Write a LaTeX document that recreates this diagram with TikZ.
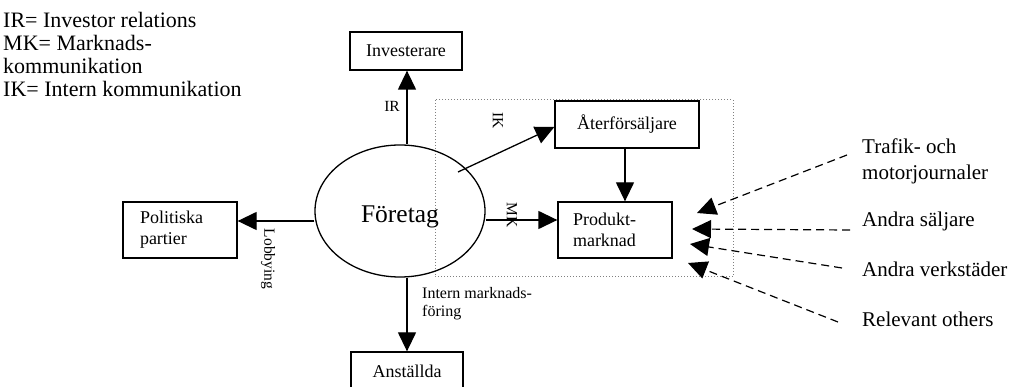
\documentclass[tikz,border=0pt]{standalone}
\usepackage{fontspec}
\setmainfont{Liberation Serif}
\usetikzlibrary{arrows.meta,shapes.geometric}
\begin{document}
\begin{tikzpicture}[x=1pt,y=-1pt,
  box/.style={draw,line width=1.3pt,inner sep=0pt,font=\fontsize{18}{21}\selectfont},
  conn/.style={line width=1.3pt,-{Triangle[length=19pt,width=18pt]}},
  dconn/.style={line width=1.2pt,dash pattern=on 8pt off 5pt,-{Triangle[length=19pt,width=18pt]}},
  lbl/.style={font=\fontsize{15.5}{18}\selectfont,inner sep=0pt},
  rlbl/.style={font=\fontsize{21}{26}\selectfont,inner sep=0pt,anchor=base west,align=left}]
\useasboundingbox (0,0) rectangle (1010,387);
% legend
\node[anchor=north west,align=left,inner sep=0pt,font=\fontsize{22}{23}\selectfont] (legend) at (3,12)
  {IR= Investor relations\\MK= Marknads-\\kommunikation\\IK= Intern kommunikation};
% dotted frame
\draw[gray,dotted,line width=1pt] (435,100) rectangle (733,277);
% nodes
\node[draw,ellipse,line width=1.3pt,minimum width=170pt,minimum height=132pt,inner sep=0pt] (ell) at (400,211) {};
\node[anchor=base,inner sep=0pt,font=\fontsize{25.5}{28}\selectfont] (elltxt) at (400,223) {Företag};
\node[box,minimum width=112pt,minimum height=38pt] (inv) at (406,51) {Investerare};
\node[box,minimum width=114pt,minimum height=56pt,text width=80pt,align=left,inner xsep=17pt] (pol) at (180,230) {Politiska\\partier};
\node[box,minimum width=112pt,minimum height=56pt] (ans) at (407,380) {};
\node[anchor=base,font=\fontsize{18}{21}\selectfont,inner sep=0pt] (anstxt) at (407,378) {Anställda};
\node[box,minimum width=144pt,minimum height=47pt] (ater) at (627,124.5) {Återförsäljare};
\node[box,minimum width=114pt,minimum height=56pt,text width=84pt,align=left,inner xsep=15pt] (prod) at (615,230) {Produkt-\\marknad};
% connectors
\draw[conn] ([xshift=7pt]ell.north) -- ([xshift=1pt]inv.south);
\draw[conn] ([xshift=7pt]ell.south) -- (ans.north);
\draw[conn] ([yshift=9pt]pol.east -| ell.west) -- ([yshift=9pt]pol.east);
\draw[conn] ([yshift=10pt]prod.west -| ell.east) -- ([yshift=10pt]prod.west);
\coordinate (ikstart) at (458,172);
\draw[conn] (ikstart) -- (ater.west |- 0,127);
\draw[conn] (ater.south -| 625,0) -- (prod.north -| 625,0);
% labels
\node[lbl,anchor=base] (ir) at (392,112) {IR};
\node[lbl,rotate=-90] (ik) at (498,121) {IK};
\node[lbl,rotate=-90] (mk) at (512,215) {MK};
\node[lbl,rotate=-90] (lob) at (268,259) {Lobbying};
\node[lbl,anchor=north west,align=left,font=\fontsize{16}{18.5}\selectfont] (intern) at (422,287) {Intern marknads-\\föring};
% right side
\node[rlbl,anchor=north west] (traf) at (862,138.7) {Trafik- och\\motorjournaler};
\node[rlbl] (sal) at (862,227) {Andra säljare};
\node[rlbl] (verk) at (862,277) {Andra verkstäder};
\node[rlbl] (rel) at (862,327) {Relevant others};
\coordinate (t1) at (847,155);
\coordinate (t2) at (850,230);
\coordinate (t3) at (842,268);
\coordinate (t4) at (838,322);
\coordinate (h1) at (697,213);
\coordinate (h2) at (692,229);
\coordinate (h3) at (690,244);
\coordinate (h4) at (688,263);
\draw[dconn] (t1) -- (h1);
\draw[dconn] (t2) -- (h2);
\draw[dconn] (t3) -- (h3);
\draw[dconn] (t4) -- (h4);
\end{tikzpicture}
\end{document}
